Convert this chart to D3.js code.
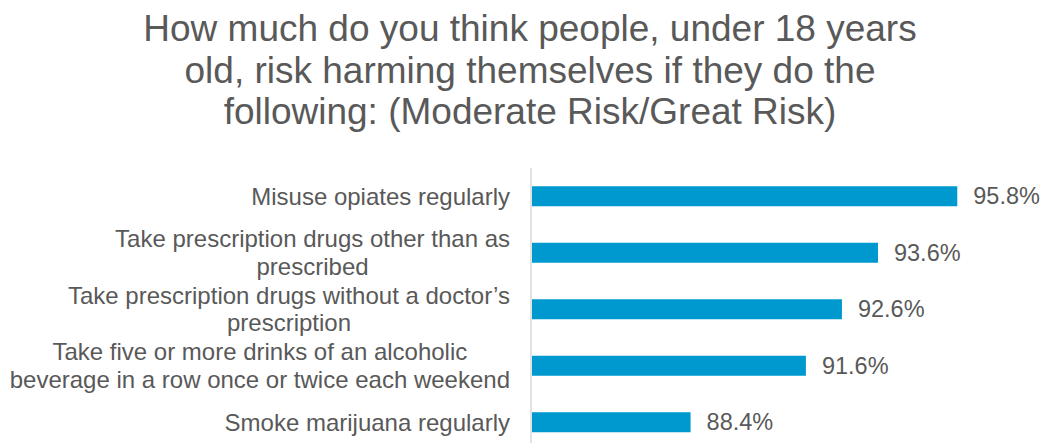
<!DOCTYPE html>
<html>
<head>
<meta charset="utf-8">
<script src="https://cdn.jsdelivr.net/npm/d3@7"></script>
<style>
  html, body { margin: 0; padding: 0; background: #fff; }
  svg { display: block; font-family: "Liberation Sans", Arial, sans-serif; }
</style>
</head>
<body>
<svg id="chart" width="1046" height="443"></svg>
<script>
// Survey items (top to bottom), each split into its displayed lines
const categories = [
  ["Misuse opiates regularly"],
  ["Take prescription drugs other than as", "prescribed"],
  ["Take prescription drugs without a doctor\u2019s", "prescription"],
  ["Take five or more drinks of an alcoholic", "beverage in a row once or twice each weekend"],
  ["Smoke marijuana regularly"]
];
// Share answering Moderate Risk / Great Risk (%)
const values = [95.8, 93.6, 92.6, 91.6, 88.4];
const titleLines = [
  "How much do you think people, under 18 years",
  "old, risk harming themselves if they do the",
  "following: (Moderate Risk/Great Risk)"
];

const svg = d3.select("#chart");
const W = 1046, H = 443;
const margin = { left: 532, top: 168 };
const textColor = "#595959";

// Title
svg.append("g").selectAll("text")
  .data(titleLines)
  .join("text")
  .attr("x", 530)
  .attr("y", (d, i) => 41 + i * 41.5)
  .attr("text-anchor", "middle")
  .attr("font-size", 37)
  .attr("fill", textColor)
  .text(d => d);

const keys = categories.map(c => c.join(" "));
const x = d3.scaleLinear().domain([84, 98]).range([margin.left, margin.left + 14 * 36.04]);
const y = d3.scaleBand().domain(keys).range([margin.top, margin.top + 5 * 56.5]).paddingInner(0.646).paddingOuter(0.323);

// Category axis line
svg.append("line")
  .attr("x1", margin.left - 1).attr("x2", margin.left - 1)
  .attr("y1", margin.top).attr("y2", H)
  .attr("stroke", "#d9d9d9").attr("stroke-width", 1.5);

// Bars
svg.append("g").selectAll("rect")
  .data(values)
  .join("rect")
  .attr("x", x(84))
  .attr("y", (d, i) => y(keys[i]))
  .attr("width", d => x(d) - x(84))
  .attr("height", y.bandwidth())
  .attr("fill", "#0099cf");

// Value labels
svg.append("g").selectAll("text")
  .data(values)
  .join("text")
  .attr("x", d => x(d) + 16)
  .attr("y", (d, i) => y(keys[i]) + y.bandwidth() / 2)
  .attr("dy", "0.35em")
  .attr("font-size", 23.5)
  .attr("fill", textColor)
  .text(d => d.toFixed(1) + "%");

// Category labels: block right-aligned to the axis, lines centred within the block
const labelRight = 510;
const lineH = 27.6;
const lg = svg.append("g");
categories.forEach((lines, i) => {
  const cy = y(keys[i]) + y.bandwidth() / 2;
  const g = lg.append("g");
  const texts = g.selectAll("text")
    .data(lines)
    .join("text")
    .attr("y", (d, j) => cy + (j - (lines.length - 1) / 2) * lineH)
    .attr("dy", "0.35em")
    .attr("font-size", 24)
    .attr("fill", textColor)
    .attr("text-anchor", "middle")
    .text(d => d);
  let maxW = 0;
  texts.each(function () { maxW = Math.max(maxW, this.getComputedTextLength()); });
  texts.attr("x", labelRight - maxW / 2);
});
</script>
</body>
</html>
